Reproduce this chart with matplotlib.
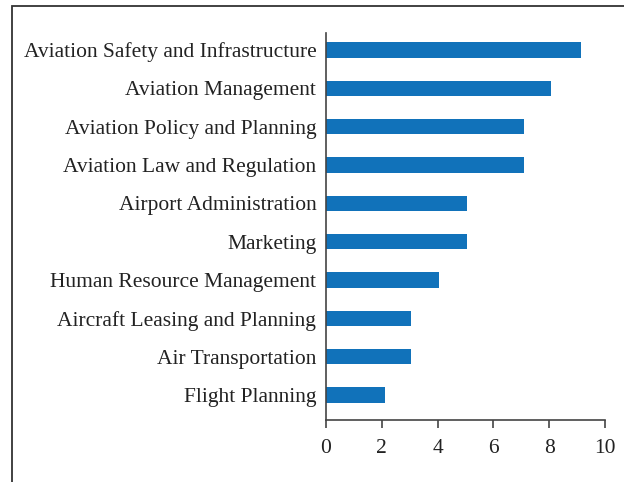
import matplotlib
matplotlib.use("Agg")
import matplotlib.pyplot as plt
from matplotlib.patches import Rectangle

categories = [
    "Aviation Safety and Infrastructure",
    "Aviation Management",
    "Aviation Policy and Planning",
    "Aviation Law and Regulation",
    "Airport Administration",
    "Marketing",
    "Human Resource Management",
    "Aircraft Leasing and Planning",
    "Air Transportation",
    "Flight Planning",
]
values = [9.15, 8.05, 7.1, 7.1, 5.05, 5.05, 4.05, 3.05, 3.05, 2.1]
xticks = [0, 2, 4, 6, 8, 10]

plt.rcParams['font.family'] = ['Liberation Serif', 'DejaVu Serif']

fig = plt.figure(figsize=(6.24, 4.82), dpi=100)
ax = fig.add_axes([326/624, 1-420/482, (605-326)/624, (420-33)/482])

n = len(categories)
ypos = list(range(n - 1, -1, -1))
ax.barh(ypos, values, height=0.4, color="#1172BA")
ax.set_yticks(ypos)
ax.set_yticklabels(categories, fontsize=15.5, color="#222222")
ax.set_xticks(xticks)
ax.set_xticklabels([str(t) for t in xticks], fontsize=15.5, color="#222222")
ax.set_xlim(0, 10)
ax.set_ylim(-0.65, 9.44)
for s in ["top", "right"]:
    ax.spines[s].set_visible(False)
for s in ["left", "bottom"]:
    ax.spines[s].set_color("#444444")
    ax.spines[s].set_linewidth(1.2)
ax.tick_params(axis="y", length=0, pad=7)
ax.tick_params(axis="x", length=6, width=1.2, color="#444444", pad=8)

fig.patches.append(Rectangle((12/624, -0.1), 1.2, 1 - 6/482 + 0.1,
                             transform=fig.transFigure, fill=False,
                             edgecolor="#333333", linewidth=1.3))

fig.savefig("out.png", dpi=100)
